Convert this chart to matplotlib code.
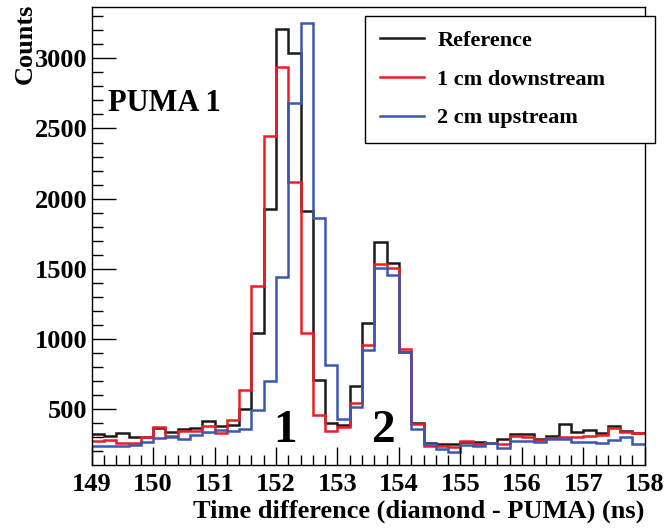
import numpy as np
import matplotlib
matplotlib.use("Agg")
import matplotlib.pyplot as plt
from matplotlib.lines import Line2D
from matplotlib.ticker import MultipleLocator

# ---- data ----
bin_start = 149.0
bin_width = 0.2
reference = [322, 310, 329, 305, 300, 369, 340, 357, 364, 419,
             380, 390, 500, 1046, 1927, 3207, 3036, 1915, 709, 400,
             385, 668, 1112, 1694, 1544, 906, 400, 258, 253, 250,
             265, 265, 258, 288, 322, 322, 286, 310, 393, 340,
             352, 329, 381, 345, 333]
downstream_1cm = [276, 281, 262, 262, 300, 376, 310, 348, 348, 381,
                  329, 424, 637, 1380, 2447, 2936, 2121, 1046, 459, 345,
                  375, 543, 958, 1535, 1504, 927, 395, 239, 239, 234,
                  276, 253, 258, 253, 310, 305, 281, 293, 300, 305,
                  310, 317, 369, 336, 329]
upstream_2cm = [239, 239, 239, 243, 269, 293, 300, 286, 317, 340,
                350, 345, 360, 495, 704, 1440, 2684, 3254, 1865, 818,
                431, 519, 922, 1504, 1456, 910, 357, 253, 219, 198,
                246, 239, 262, 222, 276, 274, 267, 288, 291, 269,
                269, 258, 281, 300, 251]
series_labels = ["Reference", "1 cm downstream", "2 cm upstream"]
series_colors = ["#1a1a1a", "#ee1c24", "#3a58b0"]
x_title = "Time difference (diamond - PUMA) (ns)"
y_title = "Counts"
panel_label = "PUMA 1"
peak_labels = ["1", "2"]
peak_label_x = [152.15, 153.75]

edges = bin_start + bin_width * np.arange(len(reference) + 1)

W, H = 666, 530
fig = plt.figure(figsize=(W / 100, H / 100), dpi=100)
ax = fig.add_axes([91.7 / W, 1 - 465 / H, (644.7 - 91.7) / W, (465 - 7.3) / H])

font = dict(family=["Liberation Serif", "DejaVu Serif"], weight="bold")

for vals, col in zip([reference, downstream_1cm, upstream_2cm], series_colors):
    ax.stairs(vals, edges, baseline=None, color=col, linewidth=1.8)

ax.set_xlim(149, 158)
ax.set_ylim(103, 3363)
ax.xaxis.set_major_locator(MultipleLocator(1))
ax.xaxis.set_minor_locator(MultipleLocator(0.2))
ax.yaxis.set_major_locator(MultipleLocator(500))
ax.yaxis.set_minor_locator(MultipleLocator(100))
ax.tick_params(axis="both", which="both", direction="in", top=False, right=False, width=1)
ax.tick_params(axis="x", which="major", length=13, pad=6)
ax.tick_params(axis="x", which="minor", length=7)
ax.tick_params(axis="y", which="major", length=17, pad=3)
ax.tick_params(axis="y", which="minor", length=8)
for lab in ax.get_xticklabels() + ax.get_yticklabels():
    lab.set_fontfamily(["Liberation Serif", "DejaVu Serif"])
    lab.set_fontweight("bold")
    lab.set_fontsize(19)
for s in ax.spines.values():
    s.set_linewidth(1.0)
    s.set_color("black")

fig.text(644.7 / W, 1 - 511 / H, x_title, ha="right", va="center", fontsize=19, **font)
fig.text(25 / W, 1 - 4 / H, y_title, ha="center", va="top", rotation=90, fontsize=19, **font)
fig.text(108 / W, 1 - 103 / H, panel_label, ha="left", va="center", fontsize=22, **font)
for lbl, xv in zip(peak_labels, peak_label_x):
    ax.text(xv, 345, lbl, ha="center", va="center", fontsize=34, **font)

handles = [Line2D([], [], color=c, linewidth=1.8) for c in series_colors]
leg = fig.legend(handles, series_labels, loc="upper left",
                 bbox_to_anchor=(365 / W, 1 - 135 / H, 290 / W, 119 / H),
                 bbox_transform=fig.transFigure, mode="expand",
                 prop=dict(family=["Liberation Serif", "DejaVu Serif"], weight="bold", size=16),
                 frameon=True, fancybox=False, framealpha=1, edgecolor="black",
                 handlelength=2.0, handletextpad=0.6, labelspacing=0.81,
                 borderpad=0.66, borderaxespad=0)
leg.get_frame().set_linewidth(1.0)

fig.savefig("out.png", dpi=100)
